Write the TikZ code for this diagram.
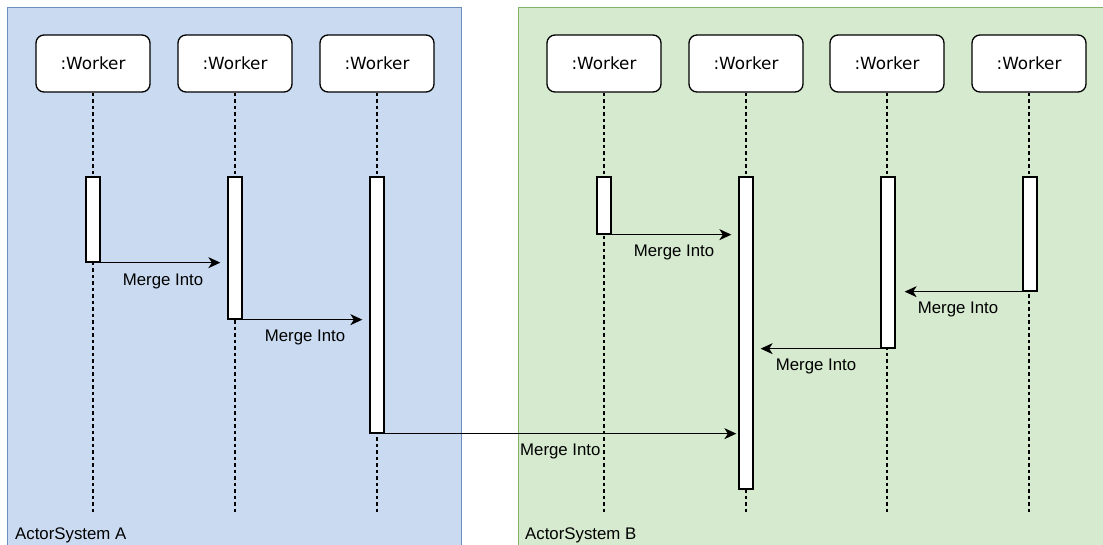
\documentclass[tikz,border=0pt]{standalone}
\usepackage{fontspec}
\setmainfont{Liberation Sans}
\newfontfamily\workerfont{DejaVu Sans}
\usetikzlibrary{arrows.meta}
\definecolor{sysAfill}{RGB}{202,219,241}
\definecolor{sysAline}{RGB}{108,142,191}
\definecolor{sysBfill}{RGB}{213,234,206}
\definecolor{sysBline}{RGB}{130,179,102}
\tikzset{
  x=1pt, y=-1pt,
  system/.style={line width=1pt},
  worker/.style={draw, line width=1.3pt, rounded corners=8pt, fill=white,
    minimum width=114pt, minimum height=57pt, inner sep=0pt,
    font=\workerfont\fontsize{16.8}{20}\selectfont},
  lifeline/.style={line width=1.2pt, dash pattern=on 3.5pt off 3pt},
  activation/.style={draw, line width=1.3pt, fill=white, minimum width=14pt, inner sep=0pt},
  msg/.style={line width=1.2pt, -{Stealth[length=12pt,width=11pt,inset=3.5pt]}, shorten >=7pt},
  msglabel/.style={anchor=base, inner sep=0pt, font=\fontsize{16.8}{20}\selectfont},
  syslabel/.style={anchor=base west, inner sep=0pt, font=\fontsize{16.8}{20}\selectfont}
}
\begin{document}
\begin{tikzpicture}
\useasboundingbox (0,0) rectangle (1103,544);

% actor systems
\fill[sysAfill] (7,7) rectangle (461,550);
\draw[system, sysAline] (7,550) -- (7,7) -- (461,7) -- (461,550);
\fill[sysBfill] (518,7) rectangle (1110,550);
\draw[system, sysBline] (518,550) -- (518,7) -- (1110,7);
\node[syslabel] (labA) at (15,539) {ActorSystem A};
\node[syslabel] (labB) at (525,539) {ActorSystem B};

% workers
\foreach \n/\x in {wa1/93, wa2/235, wa3/377, wb1/604, wb2/746, wb3/887, wb4/1029}{
  \node[worker] (\n) at (\x,63.5) {:Worker};
  \coordinate (\n end) at (\x,515);
  \draw[lifeline] (\n.south) -- (\n end);
}

% activation bars
\node[activation, minimum height=85pt]  (a1) at (93,219.5) {};
\node[activation, minimum height=142pt] (a2) at (235,248) {};
\node[activation, minimum height=256pt] (a3) at (377,305) {};
\node[activation, minimum height=57pt]  (b1) at (604,205.5) {};
\node[activation, minimum height=312pt] (b2) at (746,333) {};
\node[activation, minimum height=171pt] (b3) at (888,262.5) {};
\node[activation, minimum height=114pt] (b4) at (1030,234) {};

% messages
\draw[msg] (a1.south east) -- (a1.south east -| a2.west);
\node[msglabel] (m1) at (163,285) {Merge Into};
\draw[msg] (a2.south east) -- (a2.south east -| a3.west);
\node[msglabel] (m2) at (305,341) {Merge Into};
\draw[msg, shorten >=2pt] (a3.south east) -- (a3.south east -| b2.west);
\node[syslabel] (m3) at (520,455) {Merge Into};
\draw[msg] (b1.south east) -- (b1.south east -| b2.west);
\node[msglabel] (m4) at (674,256) {Merge Into};
\draw[msg, shorten >=9pt] (b4.south west) -- (b4.south west -| b3.east);
\node[msglabel] (m5) at (958,313) {Merge Into};
\draw[msg] (b3.south west) -- (b3.south west -| b2.east);
\node[msglabel] (m6) at (816,370) {Merge Into};
\end{tikzpicture}
\end{document}
